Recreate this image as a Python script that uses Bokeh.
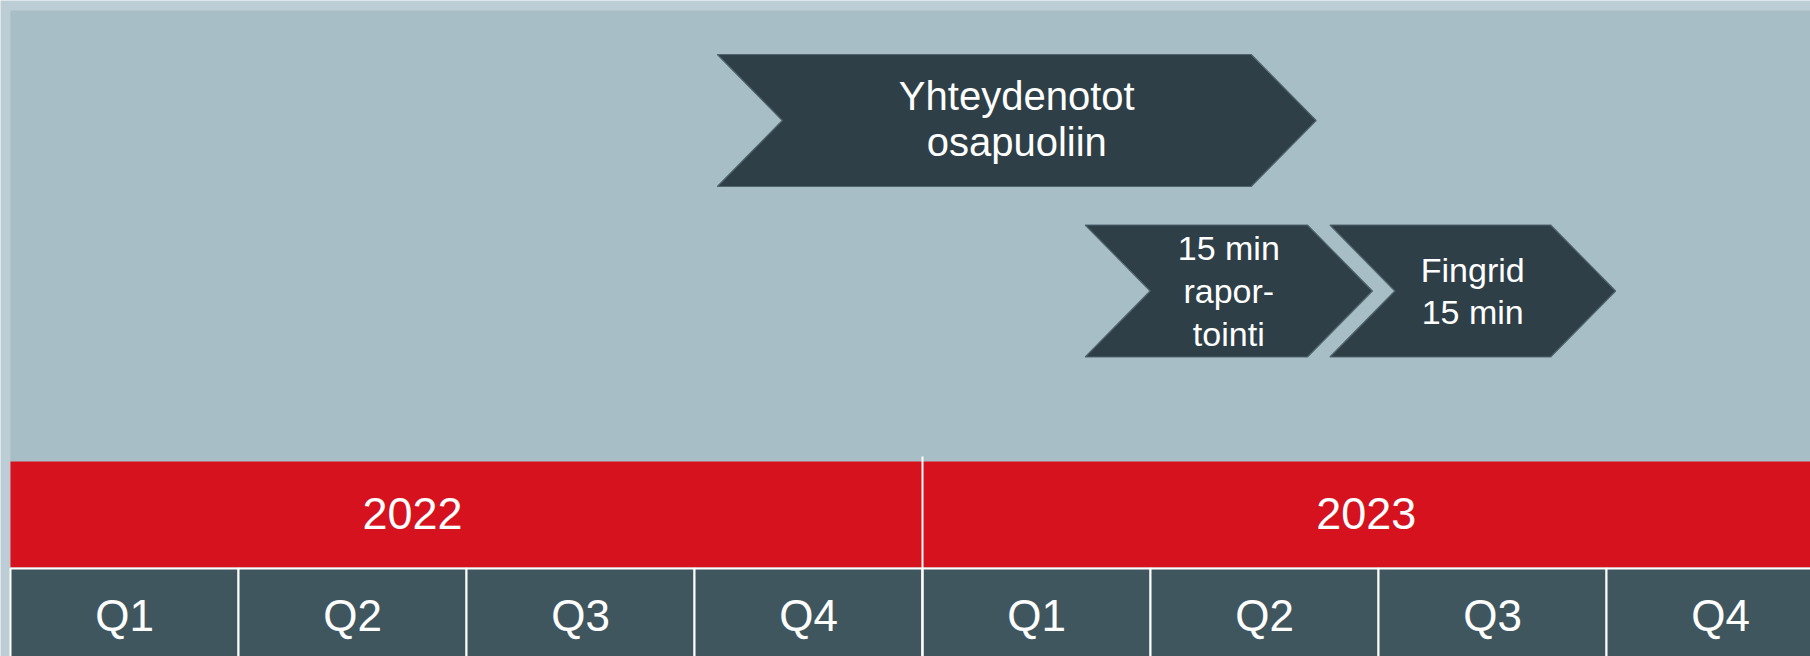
from bokeh.plotting import figure
from bokeh.models import Range1d, ColumnDataSource
from bokeh.core.properties import value
from bokeh.embed import file_html
from bokeh.resources import INLINE

# ---------------- data ----------------
years = ["2022", "2023"]
year_label_month = [5.29, 17.84]          # label centre, months from Jan 2022
quarters = ["Q1", "Q2", "Q3", "Q4"]
task_labels = ["Yhteydenotot\nosapuoliin", "15 min\nrapor-\ntointi", "Fingrid\n15 min"]
task_start = [9.30, 14.14, 17.36]         # months from Jan 2022 (left edge)
task_end = [17.18, 17.92, 21.12]          # months from Jan 2022 (arrow tip)
task_lane = [0, 1, 1]

# ---------------- layout / style ----------------
W, H = 1810, 656
MONTH_PX = 76.0
X0 = 10.0
FONT = value("Liberation Sans")
BG_OUT = "#bccdd5"
BG = "#a8bec6"
RED = "#d5121e"
CELL = "#40565f"
CHEV = "#2e3f48"
CHEV_EDGE = "#51656e"

lane_top = [54.0, 224.5]
lane_h = 132.0
lane_font = ["40px", "34px"]
lane_lh = [1.06, 1.13]
depth = 65.0 / MONTH_PX

x_range = Range1d(-X0 / MONTH_PX, (W - X0) / MONTH_PX)
y_range = Range1d(H, 0)

p = figure(width=W, height=H, x_range=x_range, y_range=y_range,
           output_backend="svg", toolbar_location=None, min_border=0)
p.axis.visible = False
p.grid.visible = False
p.outline_line_color = None
p.background_fill_color = BG_OUT
p.border_fill_color = BG_OUT

n_months = 12 * len(years)
right_edge = n_months + 2

# main background
p.quad(left=[0], right=[right_edge], top=[10], bottom=[H + 20],
       fill_color=BG, line_color=None)

# red year band
p.quad(left=[0], right=[right_edge], top=[461], bottom=[567],
       fill_color=RED, line_color=None)

# quarter cells
ql, qr, qx, qt = [], [], [], []
for i, _y in enumerate(years):
    for q, qn in enumerate(quarters):
        left = 12 * i + 3 * q
        ql.append(left)
        qr.append(left + 3)
        qx.append(left + 1.5)
        qt.append(qn)
p.quad(left=ql, right=qr, top=568, bottom=H + 30,
       fill_color=CELL, line_color="white", line_width=2)
p.text(x=qx, y=[614.5] * len(qx), text=qt, text_color="white",
       text_font=FONT, text_font_size="44px", text_align="center",
       text_baseline="middle")

# year divider
for i in range(1, len(years)):
    p.segment(x0=[12 * i], y0=[456], x1=[12 * i], y1=[H + 30],
              line_color="white", line_width=2)

p.text(x=year_label_month, y=[512.5] * len(years), text=years,
       text_color="white", text_font=FONT, text_font_size="45px",
       text_align="center", text_baseline="middle")

# chevrons
xs, ys = [], []
for s, e, lane in zip(task_start, task_end, task_lane):
    top = lane_top[lane]
    bot = top + lane_h
    mid = (top + bot) / 2
    sh = e - depth
    xs.append([s, sh, e, sh, s, s + depth])
    ys.append([top, top, mid, bot, bot, mid])
p.patches(xs=xs, ys=ys, fill_color=CHEV, line_color=CHEV_EDGE, line_width=1.2)

for lane in (0, 1):
    idx = [k for k, l in enumerate(task_lane) if l == lane]
    src = ColumnDataSource(dict(
        x=[(task_start[k] + task_end[k]) / 2 for k in idx],
        y=[lane_top[lane] + lane_h / 2 - (1.5 if lane == 0 else 0) for k in idx],
        t=[task_labels[k] for k in idx]))
    p.text(x="x", y="y", text="t", source=src, text_color="white",
           text_font=FONT, text_font_size=lane_font[lane],
           text_align="center", text_baseline="middle",
           text_line_height=lane_lh[lane])

open("out.html", "w").write(file_html(p, INLINE))
